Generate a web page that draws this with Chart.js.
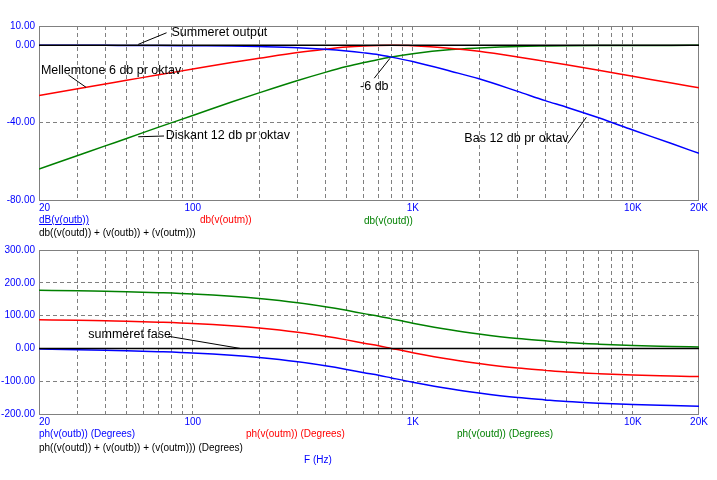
<!DOCTYPE html>
<html>
<head>
<meta charset="utf-8">
<script src="https://cdn.jsdelivr.net/npm/chart.js@4.4.1/dist/chart.umd.min.js"></script>
<style>
  body { margin: 0; background: #fff; width: 717px; height: 480px; position: relative; overflow: hidden; }
  canvas { position: absolute; left: 0; }
  .leg { position: absolute; font: 10px "Liberation Sans", Arial, sans-serif; line-height: 12px; white-space: nowrap; }
</style>
</head>
<body>
<canvas id="mag" width="717" height="215" style="top:0"></canvas>
<canvas id="phase" width="717" height="189" style="top:240px"></canvas>

<div class="leg" style="left:39px;top:214px;color:#0000ff;text-decoration:underline">dB(v(outb))</div>
<div class="leg" style="left:200px;top:214px;color:#ff0000">db(v(outm))</div>
<div class="leg" style="left:364px;top:215px;color:#008000">db(v(outd))</div>
<div class="leg" style="left:39px;top:227px;color:#000">db((v(outd)) + (v(outb)) + (v(outm)))</div>

<div class="leg" style="left:39px;top:428px;color:#0000ff">ph(v(outb)) (Degrees)</div>
<div class="leg" style="left:246px;top:428px;color:#ff0000">ph(v(outm)) (Degrees)</div>
<div class="leg" style="left:457px;top:428px;color:#008000">ph(v(outd)) (Degrees)</div>
<div class="leg" style="left:39px;top:442px;color:#000">ph((v(outd)) + (v(outb)) + (v(outm))) (Degrees)</div>
<div class="leg" style="left:304px;top:454px;color:#0000ff">F (Hz)</div>

<script>
// frekvenser (Hz)
const freqs = [20, 30, 40, 50, 70, 100, 150, 200, 300, 400, 500, 600, 700, 800,
               1000, 1500, 2000, 3000, 4000, 5000, 7000, 10000, 15000, 20000];

// amplitude (dB)
const magOutb = [0, 0, 0, -0.05, -0.1, -0.2, -0.3, -0.6, -1.2, -2.0, -2.9, -3.9, -4.9, -6.1,
                 -8.4, -13.5, -17.3, -23.8, -28.6, -32.0, -37.5, -43.8, -50.8, -55.9];
const magOutm = [-26.0, -22.5, -20.0, -18.1, -15.2, -12.3, -8.9, -6.7, -3.7, -2.0, -0.9, -0.35, -0.1, 0,
                 -0.2, -1.6, -3.1, -6.0, -8.3, -10.1, -12.9, -16.0, -19.5, -22.0];
const magOutd = [-64.0, -57.0, -52.0, -48.2, -42.3, -36.3, -29.3, -24.6, -18.2, -14.0, -11.0, -8.9, -7.3, -6.0,
                 -4.3, -2.2, -1.4, -0.6, -0.35, -0.22, -0.11, -0.06, -0.03, -0.01];
const magSum  = [0, 0, 0, 0, 0, 0, 0, 0, 0, 0, 0, 0, 0, 0,
                 0, 0, 0, 0, 0, 0, 0, 0, 0, 0];

// fase (grader)
const phOutb = [-2, -4, -6, -7, -10, -14, -21, -28, -41, -53, -64, -74, -82, -90,
                -103, -124, -136, -150, -157, -162, -167, -171, -174, -176];
const phOutm = [87, 86, 84, 83, 80, 76, 69, 62, 49, 37, 26, 16, 8, 0,
                -13, -34, -46, -60, -67, -72, -77, -81, -84, -86];
const phOutd = [177, 176, 174, 173, 170, 166, 159, 152, 139, 127, 116, 106, 98, 90,
                77, 56, 44, 30, 23, 18, 13, 9, 6, 4];
const phSum  = [0, 0, 0, 0, 0, 0, 0, 0, 0, 0, 0, 0, 0, 0,
                0, 0, 0, 0, 0, 0, 0, 0, 0, 0];

// akser
const magTicks = [10, 0, -40, -80];
const phTicks = [300, 200, 100, 0, -100, -200];
const gridFreqs = [20, 30, 40, 50, 60, 70, 80, 90, 100, 200, 300, 400, 500, 600, 700, 800, 900,
                   1000, 2000, 3000, 4000, 5000, 6000, 7000, 8000, 9000, 10000, 20000];
const freqLabelVals = [20, 100, 1000, 10000, 20000];
const freqLabels = ['20', '100', '1K', '10K', '20K'];

Chart.defaults.font.family = '"Liberation Sans", Arial, sans-serif';

//Ramme rundt plot + x labels
const frame = {
    id: 'frame',
    beforeDatasetsDraw(chart) {
        const { ctx, chartArea: a } = chart;
        ctx.save();
        ctx.strokeStyle = '#808080';
        ctx.lineWidth = 1;
        ctx.strokeRect(a.left + 0.5, a.top + 0.5, a.right - a.left - 1, a.bottom - a.top);
        ctx.restore();
    },
    afterDraw(chart) {
        const { ctx, chartArea: a, scales: { x } } = chart;
        ctx.save();
        ctx.fillStyle = '#0000ff';
        ctx.font = '10px "Liberation Sans", Arial, sans-serif';
        ctx.textBaseline = 'middle';
        freqLabelVals.forEach((v, i) => {
            ctx.textAlign = i === 0 ? 'left' : 'center';
            ctx.fillText(freqLabels[i], x.getPixelForValue(v), a.bottom + 8);
        });
        ctx.restore();
    }
};

//Tekster med streg
const annotate = {
    id: 'annotate',
    afterDatasetsDraw(chart, args, opts) {
        const { ctx, scales: { x, y } } = chart;
        ctx.save();
        ctx.strokeStyle = '#000';
        ctx.fillStyle = '#000';
        ctx.lineWidth = 1;
        ctx.font = '12.5px "Liberation Sans", Arial, sans-serif';
        ctx.textBaseline = 'middle';
        ctx.textAlign = 'left';
        (opts.items || []).forEach(n => {
            ctx.beginPath();
            ctx.moveTo(x.getPixelForValue(n.from[0]), y.getPixelForValue(n.from[1]));
            ctx.lineTo(x.getPixelForValue(n.to[0]), y.getPixelForValue(n.to[1]));
            ctx.stroke();
            ctx.fillText(n.text, x.getPixelForValue(n.at[0]), y.getPixelForValue(n.at[1]));
        });
        ctx.restore();
    }
};

function makePanel(id, yMin, yMax, yTicks, series, notes, padTop) {
    return new Chart(document.getElementById(id), {
        type: 'line',
        data: {
            datasets: series.map(s => ({
                data: freqs.map((f, i) => ({ x: f, y: s.values[i] })),
                borderColor: s.color,
                borderWidth: 1.5,
                pointRadius: 0,
                cubicInterpolationMode: 'monotone',
                fill: false
            }))
        },
        options: {
            responsive: false,
            animation: false,
            layout: { padding: { top: padTop, right: 18, left: 0, bottom: 0 } },
            plugins: {
                legend: { display: false },
                tooltip: { enabled: false },
                annotate: { items: notes }
            },
            scales: {
                x: {
                    type: 'logarithmic',
                    min: 20,
                    max: 20000,
                    afterBuildTicks: s => { s.ticks = gridFreqs.map(v => ({ value: v })); },
                    afterFit: s => { s.height = 15; },
                    ticks: { display: false },
                    grid: {
                        drawTicks: false,
                        color: c => (c.tick && (c.tick.value === 20 || c.tick.value === 20000)) ? 'rgba(0,0,0,0)' : '#808080'
                    },
                    border: { display: false, dash: [4, 3] }
                },
                y: {
                    min: yMin,
                    max: yMax,
                    afterBuildTicks: s => { s.ticks = yTicks.map(v => ({ value: v })); },
                    afterFit: s => { s.width = 39; },
                    ticks: {
                        color: '#0000ff',
                        padding: 4,
                        font: { size: 10 },
                        callback: v => v.toFixed(2)
                    },
                    grid: {
                        drawTicks: false,
                        color: c => (c.tick && (c.tick.value === yMin || c.tick.value === yMax)) ? 'rgba(0,0,0,0)' : '#808080'
                    },
                    border: { display: false, dash: [4, 3] }
                }
            }
        },
        plugins: [frame, annotate]
    });
}

// sum foerst = tegnes oeverst
makePanel('mag', -80, 10, magTicks, [
    { values: magSum, color: '#000000' },
    { values: magOutb, color: '#0000ff' },
    { values: magOutm, color: '#ff0000' },
    { values: magOutd, color: '#008000' }
], [
    { text: 'Summeret output', at: [80, 6.5], from: [56.5, 0.5], to: [76, 6.5] },
    { text: 'Mellemtone 6 db pr oktav', at: [20.4, -13.1], from: [27.2, -15.3], to: [32.7, -21.7] },
    { text: 'Diskant 12 db pr oktav', at: [75.3, -46.9], from: [56.5, -47.3], to: [74, -46.9] },
    { text: '-6 db', at: [576, -21.4], from: [668, -17.0], to: [788, -6.7] },
    { text: 'Bas 12 db pr oktav', at: [1716, -48.1], from: [5060, -50.7], to: [6150, -37.2] }
], 26);

makePanel('phase', -200, 300, phTicks, [
    { values: phSum, color: '#000000' },
    { values: phOutb, color: '#0000ff' },
    { values: phOutm, color: '#ff0000' },
    { values: phOutd, color: '#008000' }
], [
    { text: 'summeret fase', at: [33.5, 42], from: [77.4, 37], to: [164, 0] }
], 7);
</script>
</body>
</html>
